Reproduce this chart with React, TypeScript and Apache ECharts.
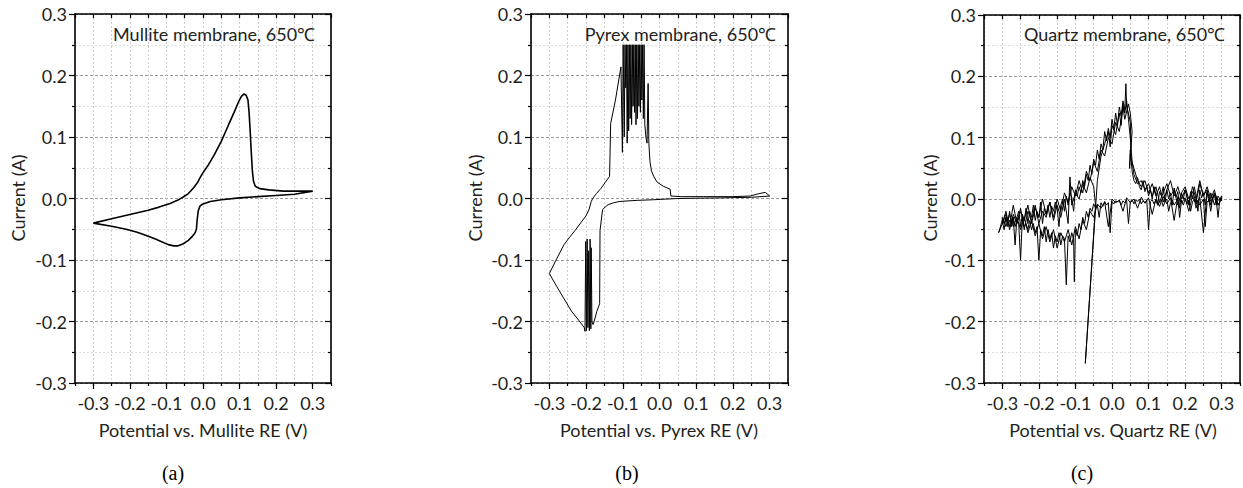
import React, { useEffect, useRef } from "react";
import * as echarts from "echarts";

// ---------- Data ----------
const xTickValues = [-0.3, -0.2, -0.1, 0.0, 0.1, 0.2, 0.3];
const panelLetters = ["(a)", "(b)", "(c)"];
const panelTitles = ["Mullite membrane, 650℃", "Pyrex membrane, 650℃", "Quartz membrane, 650℃"];
const xAxisNames = ["Potential vs. Mullite RE (V)", "Potential vs. Pyrex RE (V)", "Potential vs. Quartz RE (V)"];
const yAxisName = "Current (A)";

// (a) Mullite
const mulliteV = [
  -0.300, -0.250, -0.200, -0.150, -0.120, -0.090, -0.070, -0.055, -0.040, -0.025, -0.015, -0.008, 0.000, 0.015, 0.030, 0.050, 0.070,
  0.085, 0.097, 0.105, 0.112, 0.118, 0.123, 0.126, 0.129, 0.132, 0.135, 0.138, 0.143, 0.155, 0.180, 0.220, 0.260, 0.300,
  0.250, 0.200, 0.150, 0.100, 0.050, 0.020, 0.000, -0.008, -0.013, -0.016, -0.018, -0.022, -0.030, -0.040, -0.055, -0.068, -0.080,
  -0.095, -0.110, -0.130, -0.155, -0.180, -0.210, -0.250, -0.300,
];
const mulliteI = [
  -0.040, -0.033, -0.026, -0.019, -0.014, -0.008, -0.003, 0.002, 0.008, 0.018, 0.026, 0.034, 0.042, 0.055, 0.070, 0.093, 0.120,
  0.140, 0.157, 0.166, 0.170, 0.168, 0.160, 0.140, 0.110, 0.075, 0.045, 0.028, 0.020, 0.016, 0.014, 0.012, 0.012, 0.012,
  0.007, 0.005, 0.003, 0.001, -0.002, -0.005, -0.009, -0.012, -0.020, -0.035, -0.050, -0.056, -0.062, -0.068, -0.074, -0.077, -0.077,
  -0.075, -0.071, -0.066, -0.060, -0.055, -0.050, -0.045, -0.040,
];

// (b) Pyrex
const pyrexV = [
  -0.300, -0.280, -0.260, -0.245, -0.230, -0.215, -0.200, -0.192, -0.186, -0.182, -0.172, -0.160, -0.148, -0.136, -0.133, -0.120, -0.105,
  -0.101, -0.099, -0.096, -0.094, -0.092, -0.090, -0.088, -0.086, -0.084, -0.082, -0.080, -0.078, -0.076, -0.074, -0.072, -0.070, -0.068,
  -0.066, -0.064, -0.062, -0.060, -0.058, -0.056, -0.054, -0.052, -0.050, -0.048, -0.046, -0.044, -0.042, -0.040, -0.037, -0.034, -0.031,
  -0.029, -0.026, -0.022, -0.015, -0.007, 0.010, 0.029, 0.031, 0.060, 0.120, 0.200, 0.247, 0.265, 0.288, 0.300,
  0.250, 0.165, 0.050, -0.016, -0.060, -0.089, -0.110, -0.125, -0.140, -0.148, -0.155, -0.162, -0.163, -0.171, -0.178, -0.181, -0.184,
  -0.186, -0.187, -0.189, -0.191, -0.193, -0.195, -0.197, -0.199, -0.201, -0.203, -0.205, -0.220, -0.240, -0.260, -0.280, -0.300,
];
const pyrexI = [
  -0.122, -0.098, -0.075, -0.063, -0.052, -0.040, -0.028, -0.018, -0.005, 0.000, 0.008, 0.016, 0.026, 0.036, 0.122, 0.160, 0.214,
  0.075, 0.250, 0.100, 0.250, 0.180, 0.250, 0.090, 0.250, 0.110, 0.250, 0.130, 0.250, 0.120, 0.250, 0.150, 0.250, 0.140,
  0.250, 0.120, 0.250, 0.130, 0.250, 0.150, 0.250, 0.140, 0.250, 0.160, 0.250, 0.130, 0.250, 0.120, 0.100, 0.090, 0.187,
  0.090, 0.060, 0.045, 0.035, 0.027, 0.020, 0.015, 0.004, 0.003, 0.003, 0.003, 0.004, 0.007, 0.010, 0.004,
  0.002, 0.001, 0.000, -0.002, -0.003, -0.004, -0.005, -0.007, -0.010, -0.014, -0.018, -0.052, -0.171, -0.184, -0.200, -0.205, -0.200,
  -0.080, -0.212, -0.066, -0.215, -0.085, -0.210, -0.066, -0.215, -0.070, -0.216, -0.210, -0.198, -0.183, -0.163, -0.143, -0.122,
];

// (c) Quartz (noisy record)
const quartzV = [
  // forward scan 1
  -0.300, -0.295, -0.290, -0.285, -0.280, -0.275, -0.270, -0.265, -0.260, -0.255, -0.250, -0.245, -0.240, -0.235, -0.230, -0.225, -0.220,
  -0.215, -0.210, -0.205, -0.200, -0.195, -0.190, -0.185, -0.180, -0.175, -0.170, -0.165, -0.160, -0.155, -0.150, -0.145, -0.140, -0.135,
  -0.130, -0.125, -0.120, -0.115, -0.110, -0.105, -0.100, -0.095, -0.090, -0.085, -0.080, -0.075, -0.070, -0.065, -0.060, -0.055, -0.050,
  -0.045, -0.040, -0.035, -0.030, -0.025, -0.020, -0.015, -0.010, -0.005, 0.000, 0.005, 0.010, 0.015, 0.020, 0.025, 0.030, 0.035, 0.038,
  0.040, 0.045, 0.050, 0.052, 0.048, 0.050, 0.055, 0.060, 0.065, 0.070, 0.075, 0.080, 0.085, 0.090, 0.095, 0.100, 0.105, 0.110, 0.115,
  0.120, 0.125, 0.130, 0.135, 0.140, 0.145, 0.150, 0.155, 0.160, 0.165, 0.170, 0.175, 0.180, 0.185, 0.190, 0.195, 0.200, 0.205, 0.210,
  0.215, 0.220, 0.225, 0.230, 0.235, 0.240, 0.245, 0.250, 0.255, 0.260, 0.265, 0.270, 0.275, 0.280, 0.285, 0.290, 0.295, 0.300,
  // reverse scan 1
  0.300, 0.295, 0.290, 0.285, 0.280, 0.275, 0.270, 0.265, 0.260, 0.255, 0.250, 0.245, 0.240, 0.235, 0.230, 0.225, 0.220, 0.215, 0.210,
  0.205, 0.200, 0.195, 0.190, 0.185, 0.180, 0.175, 0.170, 0.165, 0.160, 0.155, 0.150, 0.145, 0.140, 0.135, 0.130, 0.125, 0.120, 0.115,
  0.110, 0.105, 0.100, 0.095, 0.090, 0.085, 0.080, 0.075, 0.070, 0.065, 0.060, 0.055, 0.050, 0.045, 0.040, 0.035, 0.030, 0.025, 0.020,
  0.015, 0.010, 0.005, 0.000, -0.005, -0.010, -0.015, -0.020, -0.025, -0.030, -0.035, -0.040, -0.045, -0.050, -0.055, -0.060, -0.065,
  -0.070, -0.075, -0.080, -0.085, -0.090, -0.095, -0.100, -0.103, -0.105, -0.110, -0.115, -0.120, -0.125, -0.130, -0.135, -0.140, -0.145,
  -0.150, -0.155, -0.160, -0.165, -0.170, -0.175, -0.180, -0.185, -0.190, -0.195, -0.200, -0.205, -0.210, -0.215, -0.220, -0.225, -0.230,
  -0.235, -0.240, -0.245, -0.250, -0.255, -0.260, -0.265, -0.270, -0.275, -0.280, -0.285, -0.290, -0.295, -0.300, -0.310,
  // forward scan 2
  -0.300, -0.290, -0.280, -0.270, -0.260, -0.250, -0.240, -0.230, -0.220, -0.210, -0.200, -0.190, -0.180, -0.170, -0.160, -0.150, -0.140,
  -0.130, -0.120, -0.115, -0.110, -0.100, -0.090, -0.080, -0.070, -0.060, -0.050, -0.045, -0.073, -0.040, -0.030, -0.020, -0.010, -0.005,
  0.000, 0.010, 0.020, 0.025, 0.030, 0.035, 0.040, 0.045, 0.050, 0.055, 0.060, 0.070, 0.080, 0.090, 0.100, 0.110, 0.120, 0.130, 0.140,
  0.150, 0.160, 0.170, 0.180, 0.190, 0.200, 0.210, 0.220, 0.230, 0.240, 0.250, 0.260, 0.270, 0.280, 0.290, 0.300,
  // reverse scan 2
  0.290, 0.280, 0.270, 0.260, 0.250, 0.240, 0.230, 0.220, 0.210, 0.200, 0.190, 0.180, 0.170, 0.160, 0.150, 0.140, 0.130, 0.120, 0.110,
  0.100, 0.090, 0.080, 0.070, 0.060, 0.050, 0.040, 0.030, 0.020, 0.010, 0.000, -0.010, -0.020, -0.030, -0.040, -0.050, -0.060, -0.070,
  -0.080, -0.090, -0.100, -0.110, -0.120, -0.130, -0.140, -0.150, -0.160, -0.170, -0.180, -0.190, -0.200, -0.210, -0.220, -0.230, -0.240,
  -0.250, -0.260, -0.270, -0.280, -0.290, -0.300,
  // forward scan 3
  -0.300, -0.290, -0.280, -0.270, -0.260, -0.250, -0.240, -0.230, -0.220, -0.210, -0.200, -0.190, -0.180, -0.170, -0.160, -0.150, -0.140,
  -0.130, -0.120, -0.110, -0.100, -0.090, -0.080, -0.070, -0.060, -0.050, -0.040, -0.030, -0.020, -0.010, 0.000, 0.010, 0.020, 0.030,
  0.035, 0.045, 0.050, 0.055, 0.050, 0.060, 0.070, 0.080, 0.090, 0.100, 0.110, 0.120, 0.130, 0.140, 0.150, 0.160, 0.170, 0.180, 0.190,
  0.200, 0.210, 0.220, 0.230, 0.240, 0.250, 0.260, 0.270, 0.280, 0.290, 0.300,
];
const quartzI = [
  // forward scan 1
  -0.035, -0.050, -0.030, -0.040, -0.020, -0.045, -0.030, -0.075, -0.030, -0.020, -0.045, -0.025, -0.035, -0.015, -0.040, -0.020, -0.030,
  -0.010, -0.035, -0.020, -0.030, -0.005, -0.040, -0.015, -0.025, -0.010, -0.030, -0.012, -0.020, -0.005, -0.015, -0.045, -0.010, 0.000,
  -0.020, 0.005, -0.010, 0.010, 0.003, -0.020, 0.015, 0.005, 0.020, 0.010, 0.030, 0.020, 0.040, 0.030, 0.055, 0.040, 0.065,
  0.055, 0.080, 0.065, 0.090, 0.080, 0.110, 0.095, 0.115, 0.100, 0.130, 0.115, 0.140, 0.120, 0.150, 0.135, 0.160, 0.145, 0.188,
  0.150, 0.140, 0.125, 0.090, 0.050, 0.080, 0.045, 0.030, 0.025, 0.035, 0.020, 0.015, 0.030, 0.012, 0.020, 0.005, 0.015, 0.000, 0.020,
  0.008, -0.010, 0.012, 0.005, 0.020, -0.005, 0.015, 0.000, 0.010, -0.010, 0.018, 0.003, 0.012, -0.015, 0.010, 0.000, 0.015, 0.005, -0.010,
  0.012, 0.000, 0.020, 0.005, -0.020, 0.015, 0.002, 0.010, -0.010, 0.012, -0.005, 0.010, 0.000, 0.008, -0.010, 0.005, 0.000, 0.005,
  // reverse scan 1
  -0.003, 0.000, -0.030, -0.002, -0.010, 0.002, -0.020, -0.002, -0.005, -0.045, 0.000, -0.005, -0.010, -0.002, -0.015, 0.000, -0.005, -0.020, -0.002,
  -0.008, 0.000, -0.010, -0.002, -0.030, 0.000, -0.005, -0.010, -0.002, -0.006, -0.020, 0.000, -0.004, -0.012, -0.002, -0.005, -0.010, -0.002, -0.008,
  -0.001, -0.004, -0.050, -0.002, -0.006, -0.003, -0.008, 0.000, -0.004, -0.002, -0.008, -0.001, -0.005, -0.040, -0.002, -0.006, -0.003, -0.010, -0.002,
  -0.005, -0.003, -0.008, -0.004, -0.055, -0.006, -0.010, -0.004, -0.012, -0.006, -0.030, -0.010, -0.015, -0.008, -0.020, -0.015, -0.030,
  -0.020, -0.040, -0.030, -0.050, -0.040, -0.060, -0.050, -0.135, -0.065, -0.055, -0.070, -0.060, -0.140, -0.065, -0.060, -0.075, -0.055,
  -0.070, -0.060, -0.080, -0.055, -0.065, -0.050, -0.070, -0.045, -0.060, -0.050, -0.100, -0.045, -0.055, -0.040, -0.050, -0.035, -0.050,
  -0.040, -0.045, -0.030, -0.100, -0.040, -0.035, -0.045, -0.030, -0.040, -0.035, -0.045, -0.030, -0.040, -0.035, -0.055,
  // forward scan 2
  -0.040, -0.020, -0.050, -0.025, -0.040, -0.015, -0.050, -0.020, -0.035, -0.010, -0.040, -0.020, -0.030, -0.005, -0.035, -0.010, -0.030,
  0.000, -0.040, 0.036, -0.010, 0.010, 0.000, 0.025, 0.010, 0.035, 0.020, -0.010, -0.268, 0.030, 0.070, 0.090, 0.110, 0.085,
  0.120, 0.105, 0.140, 0.120, 0.155, 0.140, 0.160, 0.130, 0.100, 0.060, 0.040, 0.025, 0.030, 0.015, 0.025, 0.005, 0.020, -0.005, 0.010,
  0.025, 0.005, 0.015, -0.010, 0.010, 0.020, 0.000, 0.012, -0.005, 0.025, 0.005, 0.015, -0.010, 0.010, -0.002, 0.002,
  // reverse scan 2
  -0.010, 0.006, -0.004, 0.010, -0.055, 0.003, -0.008, 0.005, -0.020, 0.002, -0.006, 0.004, -0.035, 0.002, -0.008, 0.004, -0.012, 0.000, -0.025,
  0.002, -0.007, 0.003, -0.015, 0.000, -0.006, 0.002, -0.020, -0.002, -0.006, 0.000, -0.045, -0.005, -0.015, -0.008, -0.030, -0.020, -0.050,
  -0.035, -0.065, -0.045, -0.075, -0.050, -0.070, -0.055, -0.080, -0.050, -0.070, -0.045, -0.065, -0.040, -0.060, -0.035, -0.055, -0.030,
  -0.050, -0.030, -0.045, -0.025, -0.045, -0.030,
  // forward scan 3
  -0.040, -0.025, -0.045, -0.010, -0.040, -0.020, -0.035, -0.010, -0.040, -0.015, -0.030, 0.000, -0.025, -0.005, -0.030, 0.000, -0.020,
  0.010, -0.005, 0.020, 0.005, 0.030, 0.010, 0.045, 0.030, 0.060, 0.045, 0.080, 0.070, 0.100, 0.090, 0.125, 0.110, 0.150,
  0.130, 0.155, 0.140, 0.110, 0.070, 0.050, 0.030, 0.020, 0.030, 0.010, 0.025, 0.005, 0.020, -0.005, 0.015, 0.030, 0.005, 0.020, 0.000,
  0.015, -0.010, 0.020, 0.000, 0.030, 0.005, 0.020, 0.000, 0.015, -0.010, 0.000,
];

// ---------- Layout ----------
const FONT = 'Lato, "Noto Sans", sans-serif';
const TXT = "#231f20";
const grids = [
  { left: 75, top: 14, width: 256, height: 369 },
  { left: 531, top: 14, width: 257, height: 369 },
  { left: 984, top: 15, width: 256, height: 368 },
];
const lineWidths = [1.6, 1, 1];
const titleRight = [315, 776, 1225];
const yNameX = [18, 475, 930];
const xNameX = [203, 659, 1113];
const letterX = [173, 627, 1082];

const zip = (a: number[], b: number[]) => a.map((v, i) => [v, b[i]]);
const fmt = (v: number) => (Math.abs(v) < 1e-9 ? "0.0" : v.toFixed(1));

export default function App() {
  const ref = useRef<HTMLDivElement>(null);
  useEffect(() => {
    if (!ref.current) return;
    const chart = echarts.init(ref.current, undefined, { renderer: "svg" });
    const black = { color: "#000", width: 1.6 };
    const xAxes: any[] = [];
    const yAxes: any[] = [];
    const series: any[] = [];
    const graphic: any[] = [];
    const datasets = [zip(mulliteV, mulliteI), zip(pyrexV, pyrexI), zip(quartzV, quartzI)];
    grids.forEach((g, i) => {
      xAxes.push({
        gridIndex: i, type: "value", min: -0.35, max: 0.35, interval: 0.05, position: "bottom",
        axisLine: { show: true, onZero: false, lineStyle: black },
        axisTick: { show: true, inside: false, length: 3, lineStyle: { color: "#000", width: 1.2 } },
        axisLabel: { show: false },
        splitLine: { show: true, lineStyle: { color: "#cfcfcf", type: [2, 2], width: 1 } },
      });
      xAxes.push({
        gridIndex: i, type: "value", min: -0.35, max: 0.35, position: "bottom",
        axisLine: { show: false, onZero: false },
        axisTick: { show: true, inside: false, length: 6, customValues: xTickValues, lineStyle: { color: "#000", width: 1.2 } },
        axisLabel: { show: true, customValues: xTickValues, formatter: fmt, margin: 11, fontSize: 18, fontFamily: FONT, color: TXT },
        splitLine: { show: false },
      });
      xAxes.push({
        gridIndex: i, type: "value", min: -0.35, max: 0.35, interval: 0.05, position: "top",
        axisLine: { show: true, onZero: false, lineStyle: black },
        axisTick: { show: true, inside: true, length: 4, lineStyle: { color: "#000", width: 1.2 } },
        axisLabel: { show: false },
        splitLine: { show: false },
      });
      yAxes.push({
        gridIndex: i, type: "value", min: -0.3, max: 0.3, interval: 0.1, position: "left",
        axisLine: { show: true, onZero: false, lineStyle: black },
        axisTick: { show: true, inside: false, length: 6, lineStyle: { color: "#000", width: 1.2 } },
        minorTick: { show: true, splitNumber: 2, length: 3, lineStyle: { color: "#000", width: 1.2 } },
        axisLabel: { show: true, formatter: fmt, margin: 8, fontSize: 18, fontFamily: FONT, color: TXT },
        splitLine: { show: true, lineStyle: { color: "#9a9a9a", type: [3, 2], width: 1 } },
        minorSplitLine: { show: true, lineStyle: { color: "#dcdcdc", type: [2, 2], width: 1 } },
      });
      yAxes.push({
        gridIndex: i, type: "value", min: -0.3, max: 0.3, interval: 0.1, position: "right",
        axisLine: { show: true, onZero: false, lineStyle: black },
        axisTick: { show: true, inside: true, length: 6, lineStyle: { color: "#000", width: 1.2 } },
        minorTick: { show: true, splitNumber: 2, length: 3, lineStyle: { color: "#000", width: 1.2 } },
        axisLabel: { show: false },
        splitLine: { show: false },
      });
      series.push({
        type: "line", xAxisIndex: i * 3, yAxisIndex: i * 2, data: datasets[i],
        showSymbol: false, symbol: "none", clip: true,
        lineStyle: { color: "#000", width: lineWidths[i] },
        z: 5,
      });
      graphic.push({
        type: "text", x: titleRight[i], y: 34, z: 10,
        style: { text: panelTitles[i], fontSize: 18, fontFamily: FONT, fill: TXT, align: "right", verticalAlign: "middle" },
      });
      graphic.push({
        type: "text", x: yNameX[i], y: 198, rotation: Math.PI / 2,
        style: { text: yAxisName, fontSize: 18, fontFamily: FONT, fill: TXT, align: "center", verticalAlign: "middle" },
      });
      graphic.push({
        type: "text", x: xNameX[i], y: 430,
        style: { text: xAxisNames[i], fontSize: 18, fontFamily: FONT, fill: TXT, align: "center", verticalAlign: "middle" },
      });
      graphic.push({
        type: "text", x: letterX[i], y: 473,
        style: { text: panelLetters[i], fontSize: 20, fontFamily: '"Liberation Serif", "Times New Roman", serif', fill: "#000", align: "center", verticalAlign: "middle" },
      });
    });
    chart.setOption({
      animation: false,
      backgroundColor: "#fff",
      grid: grids.map((g) => ({ ...g, containLabel: false })),
      xAxis: xAxes,
      yAxis: yAxes,
      series,
      graphic,
    });
    return () => chart.dispose();
  }, []);
  return <div ref={ref} style={{ position: "fixed", left: 0, top: 0, width: 1243, height: 488 }} />;
}
